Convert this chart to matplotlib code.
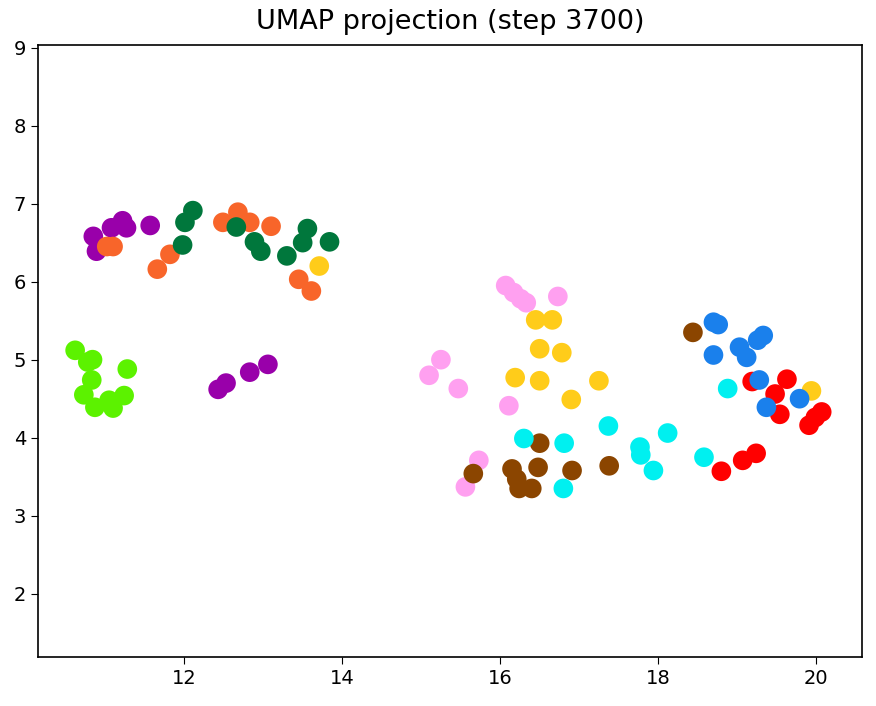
import matplotlib
matplotlib.use("Agg")
import matplotlib.pyplot as plt

# UMAP embedding points per cluster
purple_x = [10.85, 10.89, 11.08, 11.22, 11.27, 11.57, 12.43, 12.53, 12.83, 13.06]
purple_y = [6.58, 6.39, 6.69, 6.78, 6.69, 6.72, 4.62, 4.70, 4.84, 4.94]

orange_x = [11.02, 11.10, 11.82, 11.66, 12.49, 12.68, 12.83, 13.10, 13.45, 13.61]
orange_y = [6.45, 6.45, 6.35, 6.16, 6.76, 6.89, 6.76, 6.71, 6.03, 5.88]

green_x = [12.11, 12.01, 11.98, 12.66, 12.89, 12.97, 13.30, 13.56, 13.50, 13.84]
green_y = [6.91, 6.76, 6.47, 6.70, 6.51, 6.39, 6.33, 6.68, 6.50, 6.51]

lime_x = [10.62, 10.78, 10.84, 10.83, 10.73, 10.87, 11.05, 11.10, 11.24, 11.28]
lime_y = [5.12, 4.97, 5.00, 4.74, 4.55, 4.39, 4.48, 4.38, 4.54, 4.88]

pink_x = [16.07, 16.17, 16.26, 16.33, 16.73, 15.25, 15.10, 15.47, 16.11, 15.73, 15.56]
pink_y = [5.95, 5.86, 5.78, 5.73, 5.81, 5.00, 4.80, 4.63, 4.41, 3.71, 3.37]

yellow_x = [13.71, 16.45, 16.66, 16.50, 16.78, 16.19, 16.50, 17.25, 16.90, 19.94]
yellow_y = [6.20, 5.51, 5.51, 5.14, 5.09, 4.77, 4.73, 4.73, 4.49, 4.60]

brown_x = [15.66, 16.15, 16.21, 16.24, 16.40, 16.50, 16.48, 16.91, 17.38, 18.44]
brown_y = [3.54, 3.60, 3.47, 3.35, 3.35, 3.93, 3.62, 3.58, 3.64, 5.35]

cyan_x = [16.30, 16.81, 16.80, 17.37, 18.12, 17.77, 17.78, 17.94, 18.58, 18.88]
cyan_y = [3.99, 3.93, 3.35, 4.15, 4.06, 3.88, 3.78, 3.58, 3.75, 4.63]

blue_x = [18.70, 18.76, 18.70, 19.03, 19.12, 19.26, 19.33, 19.28, 19.37, 19.79]
blue_y = [5.48, 5.45, 5.06, 5.16, 5.03, 5.25, 5.31, 4.74, 4.39, 4.50]

red_x = [19.19, 19.63, 19.48, 19.54, 19.91, 19.99, 20.07, 19.07, 19.24, 18.80]
red_y = [4.72, 4.75, 4.56, 4.30, 4.16, 4.26, 4.33, 3.71, 3.80, 3.57]

clusters = [
    (purple_x, purple_y, "#9900aa"),
    (orange_x, orange_y, "#f8652a"),
    (green_x, green_y, "#00773c"),
    (lime_x, lime_y, "#5cf200"),
    (pink_x, pink_y, "#ffa0f0"),
    (yellow_x, yellow_y, "#ffcc1a"),
    (brown_x, brown_y, "#8b4500"),
    (cyan_x, cyan_y, "#00f0f0"),
    (red_x, red_y, "#ff0000"),
    (blue_x, blue_y, "#1a80ec"),
]

fig = plt.figure(figsize=(8.76, 7.06), dpi=100)
ax = fig.add_axes([0.0434, 0.0694, 0.9406, 0.8666])

for xs, ys, col in clusters:
    ax.scatter(xs, ys, s=200, color=col, edgecolors="none")

ax.set_xlim(10.15, 20.58)
ax.set_ylim(1.19, 9.03)
ax.set_xticks([12, 14, 16, 18, 20])
ax.set_yticks([2, 3, 4, 5, 6, 7, 8, 9])
ax.tick_params(labelsize=14, length=5)
for sp in ax.spines.values():
    sp.set_linewidth(1.2)
ax.set_title("UMAP projection (step 3700)", fontsize=19.5, pad=12)

fig.savefig("out.png", dpi=100)
